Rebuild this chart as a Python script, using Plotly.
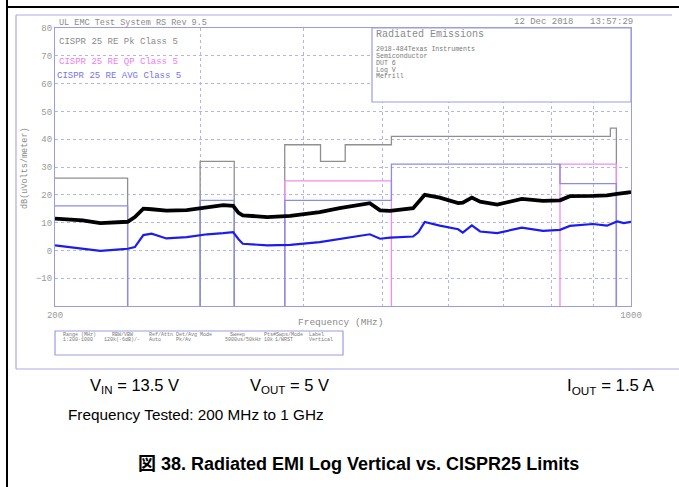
import math
import plotly.graph_objects as go

# ---------------- data ----------------
freq_mhz = [200, 216, 227, 240, 245, 250, 256, 262, 273, 289, 306, 320, 329, 334, 338,
            362, 386, 419, 443, 482, 496, 510, 544, 552, 562, 586, 617, 625, 641, 656,
            688, 737, 782, 820, 843, 899, 935, 962, 980, 1000]
peak_dbuv = [11.4, 10.8, 9.8, 10.4, 10.3, 12.0, 15.0, 14.8, 14.3, 14.5, 15.6, 16.3, 16.0, 13.5, 12.6,
             12.0, 12.4, 13.8, 15.2, 17.0, 14.4, 14.2, 15.2, 17.5, 20.0, 19.0, 17.0, 17.2, 19.0, 17.5,
             16.5, 18.5, 17.8, 18.0, 19.5, 19.6, 19.8, 20.3, 20.5, 21.0]
avg_dbuv = [1.8, 0.6, -0.2, 0.4, 0.6, 1.2, 5.5, 6.0, 4.3, 4.8, 5.8, 6.2, 6.6, 4.0, 2.4,
            1.8, 2.0, 3.0, 4.2, 5.8, 4.2, 4.6, 5.0, 6.5, 10.2, 8.9, 7.6, 6.4, 9.0, 6.8,
            6.2, 8.2, 7.0, 7.4, 8.8, 9.5, 8.9, 10.4, 9.8, 10.3]

pk_start = [200, 300, 380, 420, 450, 512, 944]
pk_stop = [245, 330, 420, 450, 512, 944, 960]
pk_level = [26, 32, 38, 32, 38, 41, 44]

qp_start = [380, 820]
qp_stop = [512, 960]
qp_level = [25, 31]

avg_start = [200, 300, 380, 512, 820]
avg_stop = [245, 330, 512, 820, 960]
avg_level = [16, 18, 18, 31, 24]

y_ticks = [-10, 0, 10, 20, 30, 40, 50, 60, 70, 80]
x_grid = [200, 300, 400, 500, 600, 700, 800, 900, 1000]
x_labels = ['200', '', '', '', '', '', '', '', '1000']

F_MIN, F_MAX = 200, 1000
Y_MIN, Y_MAX = -20, 80

# ---------------- helpers ----------------
W, H = 679, 487
L, R, T, B = 55, 631, 28, 306


def px(x):
    return (x - L) / (R - L)


def py(y):
    return (B - y) / (B - T)


def limit_path(starts, stops, levels):
    xs, ys = [], []
    prev = None
    for a, b, v in zip(starts, stops, levels):
        if prev is None:
            if a > F_MIN:
                xs.append(a); ys.append(Y_MIN)
            xs.append(a); ys.append(v)
        elif a == prev:
            xs.append(a); ys.append(v)
        else:
            xs += [prev, None, a, a]
            ys += [Y_MIN, None, Y_MIN, v]
        xs.append(b); ys.append(v)
        prev = b
    xs.append(prev); ys.append(Y_MIN)
    return xs, ys


MONO = "Liberation Mono, DejaVu Sans Mono, monospace"
SANS = "Liberation Sans, Arial, Noto Sans CJK JP, sans-serif"
GRAY = "#8a8a8a"
FRAME = "#9c9ce6"

fig = go.Figure()

for (s, e, lv), col in [((pk_start, pk_stop, pk_level), "#8f8f8f"),
                        ((qp_start, qp_stop, qp_level), "#f08cf0"),
                        ((avg_start, avg_stop, avg_level), "#8c8ce8")]:
    xs, ys = limit_path(s, e, lv)
    fig.add_trace(go.Scatter(x=xs, y=ys, mode="lines", line=dict(color=col, width=1.3),
                             hoverinfo="skip", showlegend=False, connectgaps=False))

fig.add_trace(go.Scatter(x=freq_mhz, y=peak_dbuv, mode="lines",
                         line=dict(color="#000000", width=3.8), showlegend=False))
fig.add_trace(go.Scatter(x=freq_mhz, y=avg_dbuv, mode="lines",
                         line=dict(color="#1c1cf0", width=2.2), showlegend=False))

fig.update_xaxes(type="log", range=[math.log10(F_MIN), math.log10(F_MAX)],
                 tickvals=x_grid, ticktext=x_labels, showgrid=True, gridcolor="#b4b4ec",
                 griddash="dot", gridwidth=1, showline=True, mirror=True, linecolor=FRAME,
                 linewidth=1.2, ticks="", zeroline=False,
                 tickfont=dict(family=MONO, size=9, color="#999999"))
fig.update_yaxes(range=[Y_MIN, Y_MAX], tickvals=y_ticks, showgrid=True, gridcolor="#b4b4ec",
                 griddash="dot", gridwidth=1, showline=True, mirror=True, linecolor=FRAME,
                 linewidth=1.2, ticks="", zeroline=False,
                 tickfont=dict(family=MONO, size=9, color="#999999"))

shapes = []
# document lines
shapes.append(dict(type="line", xref="paper", yref="paper", x0=px(7), x1=px(7), y0=py(0), y1=py(487),
                   line=dict(color="#000000", width=2)))
shapes.append(dict(type="line", xref="paper", yref="paper", x0=px(7), x1=px(680), y0=py(7), y1=py(7),
                   line=dict(color="#000000", width=2)))
# chart image frame
shapes.append(dict(type="line", xref="paper", yref="paper", x0=px(16), x1=px(16), y0=py(15), y1=py(369),
                   line=dict(color="#b0a8e8", width=1.2)))
shapes.append(dict(type="line", xref="paper", yref="paper", x0=px(16), x1=px(672), y0=py(15), y1=py(15),
                   line=dict(color="#b0a8e8", width=1.2)))
shapes.append(dict(type="line", xref="paper", yref="paper", x0=px(16), x1=px(680), y0=py(369), y1=py(369),
                   line=dict(color="#b0a8e8", width=1.2)))
# info box
shapes.append(dict(type="rect", xref="paper", yref="paper", x0=px(372), x1=px(631), y0=py(102), y1=py(28),
                   fillcolor="white", line=dict(color=FRAME, width=1.2), layer="above"))
# settings table
shapes.append(dict(type="rect", xref="paper", yref="paper", x0=px(55), x1=px(343), y0=py(355), y1=py(331),
                   fillcolor="rgba(0,0,0,0)", line=dict(color=FRAME, width=1.2)))

ann = []


def text(t, x, y, size, color=GRAY, family=MONO, xanchor="left", **kw):
    ann.append(dict(text=t, x=px(x), y=py(y), xref="paper", yref="paper", showarrow=False,
                    xanchor=xanchor, yanchor="middle", font=dict(family=family, size=size, color=color), **kw))


text("UL EMC Test System RS Rev 9.5", 57, 23, 8.5)
text("12 Dec 2018", 512, 22, 9)
text("13:57:29", 588, 22, 9)
text("CISPR 25 RE Pk Class 5", 57, 42, 9)
text("CISPR 25 RE QP Class 5", 57, 61.5, 9, color="#f07cf0")
text("CISPR 25 RE AVG Class 5", 55, 76, 9, color="#7474e8")
text("Radiated Emissions", 374, 35, 10)
for i, line in enumerate(["2018-484Texas Instruments", "Semiconductor", "DUT 6", "Log V", "Merrill"]):
    text(line, 374, 50 + i * 6.7, 6.6, color="#777777")
text("dB(uVolts/meter)", 25, 168, 8.5, xanchor="center", textangle=-90)
text("Frequency (MHz)", 341, 322, 9.5, xanchor="center")

hdr = [("Range (MHz)", 61), ("RBW/VBW", 110), ("Ref/Attn", 147), ("Det/Avg Mode", 174),
       ("Sweep", 228), ("Pts", 262), ("#Swps/Mode", 271), ("Label", 307)]
val = [("1:200-1000", 61), ("120k(-6dB)/-", 102), ("Auto", 147), ("Pk/Av", 174),
       ("5000us/50kHz", 223), ("10k", 262), ("1/WRST", 273), ("Vertical", 307)]
for t, x in hdr:
    text(t, x, 334.5, 5, color="#777777")
for t, x in val:
    text(t, x, 339.5, 5, color="#777777")

text("V<sub>IN</sub> = 13.5 V", 88, 386, 16.5, color="#000000", family=SANS)
text("V<sub>OUT</sub> = 5 V", 248, 386, 16.5, color="#000000", family=SANS)
text("I<sub>OUT</sub> = 1.5 A", 657, 386, 16.8, color="#000000", family=SANS, xanchor="right")
text("Frequency Tested: 200 MHz to 1 GHz", 66, 414, 15.3, color="#000000", family=SANS)
text("<b>図 38. Radiated EMI Log Vertical vs. CISPR25 Limits</b>", 358, 464, 18,
     color="#000000", family=SANS, xanchor="center")

fig.update_layout(width=W, height=H, margin=dict(l=L, r=W - R, t=T, b=H - B),
                  paper_bgcolor="white", plot_bgcolor="white", shapes=shapes, annotations=ann,
                  showlegend=False)

fig.write_html("out.html", config={"displayModeBar": False},
               post_script="document.body.style.margin='0';document.body.style.padding='0';")
